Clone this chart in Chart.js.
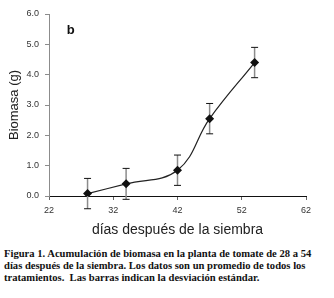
<!DOCTYPE html>
<html>
<head>
<meta charset="utf-8">
<script src="https://cdn.jsdelivr.net/npm/chart.js@4.4.1/dist/chart.umd.min.js"></script>
<style>
  html, body { margin: 0; padding: 0; background: #fff; }
  #wrap { position: relative; width: 334px; height: 298px; overflow: hidden; }
  #box { position: absolute; left: 0; top: 0; width: 334px; height: 240px; }
  #caption {
    position: absolute; left: 4px; top: 248px; width: 330px;
    font-family: "Liberation Serif", "Times New Roman", serif;
    font-weight: bold; font-size: 10.6px; line-height: 11.8px; color: #111;
    white-space: nowrap;
  }
</style>
</head>
<body>
<div id="wrap">
  <div id="box"><canvas id="bioChart"></canvas></div>
  <div id="caption">Figura 1. Acumulación de biomasa en la planta de tomate de 28 a 54<br>días después de la siembra. Los datos son un promedio de todos los<br>tratamientos.&nbsp; Las barras indican la desviación estándar.</div>
</div>
<script>
// datos: dias despues de la siembra vs biomasa (g), con desviacion estandar
const days = [28, 34, 42, 47, 54];
const biomass = [0.08, 0.40, 0.85, 2.55, 4.40];
const stdDev = [0.50, 0.51, 0.50, 0.50, 0.50];

const xTicks = [22, 32, 42, 52, 62];
const yTicks = [0, 1, 2, 3, 4, 5, 6];

const panelLabel = "b";

// error bars: gray stem, black caps
const errorBars = {
  id: "errorBars",
  beforeDatasetsDraw(chart) {
    const { ctx, scales: { x, y } } = chart;
    ctx.save();
    days.forEach((d, i) => {
      const px = x.getPixelForValue(d);
      const yTop = y.getPixelForValue(biomass[i] + stdDev[i]);
      const yBot = y.getPixelForValue(biomass[i] - stdDev[i]);
      ctx.strokeStyle = "#8c8c8c";
      ctx.lineWidth = 1.5;
      ctx.beginPath();
      ctx.moveTo(px, yTop);
      ctx.lineTo(px, yBot);
      ctx.stroke();
      ctx.strokeStyle = "#111";
      ctx.lineWidth = 1;
      ctx.beginPath();
      ctx.moveTo(px - 3.5, yTop);
      ctx.lineTo(px + 3.5, yTop);
      ctx.moveTo(px - 3.5, yBot);
      ctx.lineTo(px + 3.5, yBot);
      ctx.stroke();
    });
    ctx.restore();
  }
};

const panelText = {
  id: "panelText",
  afterDraw(chart) {
    const { ctx, scales: { x, y } } = chart;
    ctx.save();
    ctx.font = "bold 13px Arial, 'Liberation Sans', sans-serif";
    ctx.fillStyle = "#111";
    ctx.textAlign = "center";
    ctx.textBaseline = "middle";
    ctx.fillText(panelLabel, x.getPixelForValue(25.4), y.getPixelForValue(5.45));
    ctx.restore();
  }
};

const tickFont = { family: "Arial, 'Liberation Sans', sans-serif", size: 9 };

new Chart(document.getElementById("bioChart"), {
  type: "line",
  data: {
    datasets: [{
      data: days.map((d, i) => ({ x: d, y: biomass[i] })),
      borderColor: "#222",
      borderWidth: 1.2,
      tension: 0.4,
      pointStyle: "rectRot",
      pointRadius: 4.5,
      pointBackgroundColor: "#111",
      pointBorderColor: "#111",
      pointBorderWidth: 0
    }]
  },
  options: {
    responsive: true,
    maintainAspectRatio: false,
    animation: false,
    events: [],
    layout: { padding: { left: 0, top: 14, right: 28, bottom: 0 } },
    plugins: { legend: { display: false }, tooltip: { enabled: false } },
    scales: {
      x: {
        type: "linear",
        min: 22,
        max: 62,
        afterBuildTicks: s => { s.ticks = xTicks.map(v => ({ value: v })); },
        afterFit: s => { s.height = 44; },
        border: { color: "#111", width: 1 },
        grid: { drawOnChartArea: false, drawTicks: true, tickLength: 4, color: "#666" },
        ticks: { font: tickFont, color: "#333", padding: 5, maxRotation: 0 },
        title: {
          display: true,
          text: "días después de la siembra",
          font: { family: "Arial, 'Liberation Sans', sans-serif", size: 14 },
          color: "#222",
          padding: { top: 0, bottom: 1 }
        }
      },
      y: {
        min: 0,
        max: 6,
        afterBuildTicks: s => { s.ticks = yTicks.map(v => ({ value: v })); },
        afterFit: s => { s.width = 49; },
        border: { color: "#8c8c8c", width: 1 },
        grid: { drawOnChartArea: false, drawTicks: true, tickLength: 4, color: "#8c8c8c" },
        ticks: { font: tickFont, color: "#333", padding: 6, callback: v => v.toFixed(1) },
        title: {
          display: true,
          text: "Biomasa (g)",
          font: { family: "Arial, 'Liberation Sans', sans-serif", size: 13 },
          color: "#222",
          padding: { top: 7, bottom: 0 }
        }
      }
    }
  },
  plugins: [errorBars, panelText]
});
</script>
</body>
</html>
